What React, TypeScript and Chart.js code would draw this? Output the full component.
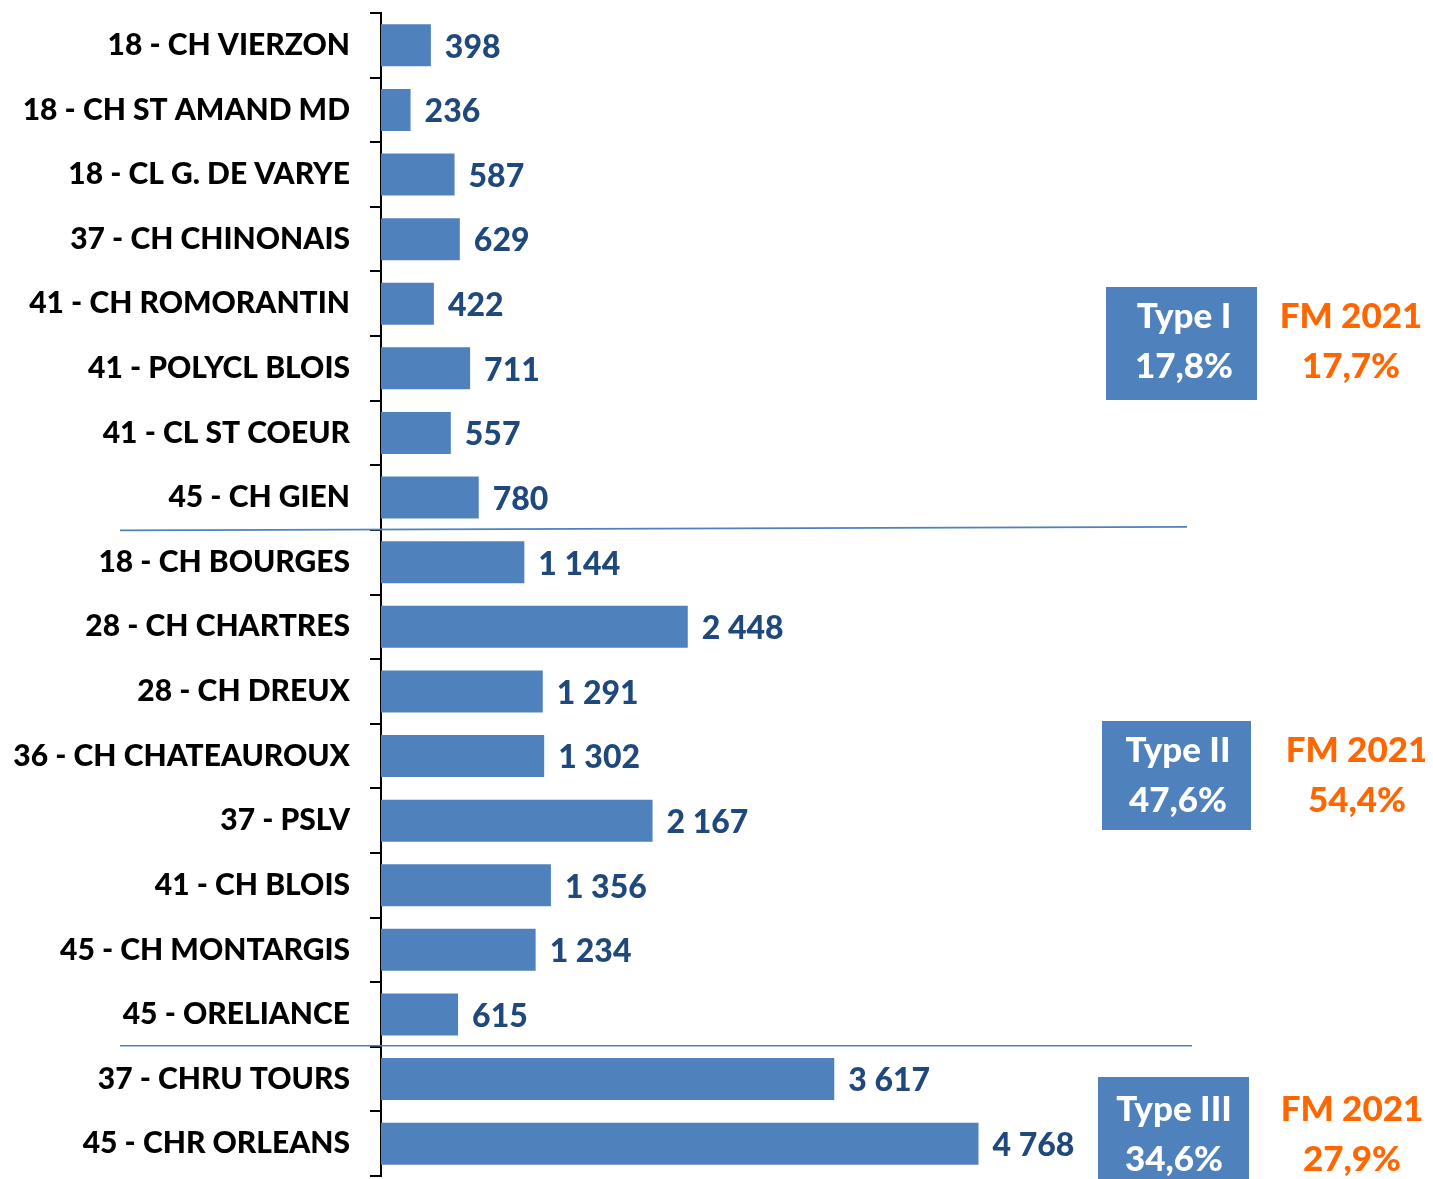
import React, { useEffect, useRef } from "react";
import { Chart, registerables } from "chart.js";

Chart.register(...registerables);

const categories = [
  "18 - CH VIERZON",
  "18 - CH ST AMAND MD",
  "18 - CL G. DE VARYE",
  "37 - CH CHINONAIS",
  "41 - CH ROMORANTIN",
  "41 - POLYCL BLOIS",
  "41 - CL ST COEUR",
  "45 - CH GIEN",
  "18 - CH BOURGES",
  "28 - CH CHARTRES",
  "28 - CH DREUX",
  "36 - CH CHATEAUROUX",
  "37 - PSLV",
  "41 - CH BLOIS",
  "45 - CH MONTARGIS",
  "45 - ORELIANCE",
  "37 - CHRU TOURS",
  "45 - CHR ORLEANS",
];

const values = [398, 236, 587, 629, 422, 711, 557, 780, 1144, 2448, 1291, 1302, 2167, 1356, 1234, 615, 3617, 4768];

const groupLabels = ["Type I", "Type II", "Type III"];
const groupShares = ["17,8%", "47,6%", "34,6%"];
const fmLabel = "FM 2021";
const fmShares = ["17,7%", "54,4%", "27,9%"];
// group boundaries (after these category indices)
const separators = [7.5, 15.5];

const FONT = "Lato, 'Open Sans', sans-serif";
const WEIGHT = "900";
const BAR = "#4f81bd";
const VALUE_COLOR = "#1f497d";
const ORANGE = "#ff6600";

const fmt = (v: number) => String(v).replace(/\B(?=(\d{3})+(?!\d))/g, " ");

const overlayPlugin = {
  id: "overlay",
  afterDatasetsDraw(chart: any) {
    const ctx = chart.ctx;
    const meta = chart.getDatasetMeta(0);
    ctx.save();
    ctx.font = `${WEIGHT} 32px ${FONT}`;
    ctx.fillStyle = VALUE_COLOR;
    ctx.textAlign = "left";
    ctx.textBaseline = "middle";
    meta.data.forEach((bar: any, i: number) => {
      ctx.fillText(fmt(values[i]), bar.x + 14, bar.y + 2);
    });

    // separators
    const ys = chart.scales.y;
    ctx.strokeStyle = BAR;
    ctx.lineWidth = 1.6;
    const left = chart.chartArea.left;
    separators.forEach((s, k) => {
      const y = ys.getPixelForValue(s) - 1;
      ctx.beginPath();
      ctx.moveTo(left - 261, y + (k === 0 ? 1.5 : 0));
      ctx.lineTo(left + (k === 0 ? 806 : 811), y - (k === 0 ? 2 : 0));
      ctx.stroke();
    });

    // boxes
    const boxes = [
      { x: 1098, y: 279, w: 151, h: 113, cx: 1176, fx: 1343, y1: 309, y2: 359 },
      { x: 1094, y: 713, w: 149, h: 109, cx: 1170, fx: 1349, y1: 743, y2: 793 },
      { x: 1090, y: 1069, w: 151, h: 110, cx: 1166, fx: 1344, y1: 1102, y2: 1152 },
    ];
    boxes.forEach((b, i) => {
      ctx.fillStyle = BAR;
      ctx.fillRect(b.x, b.y, b.w, b.h);
      ctx.fillStyle = "#ffffff";
      ctx.textAlign = "center";
      ctx.font = `${WEIGHT} 35px ${FONT}`;
      ctx.fillText(groupLabels[i], b.cx, b.y1);
      ctx.fillText(groupShares[i], b.cx, b.y2);
      ctx.fillStyle = ORANGE;
      ctx.fillText(fmLabel, b.fx, b.y1);
      ctx.fillText(fmShares[i], b.fx, b.y2);
    });
    ctx.restore();
  },
};

export default function App() {
  const ref = useRef<HTMLCanvasElement>(null);
  useEffect(() => {
    if (!ref.current) return;
    const chart = new Chart(ref.current, {
      type: "bar",
      data: {
        labels: categories,
        datasets: [
          {
            data: values,
            backgroundColor: BAR,
            borderWidth: 0,
            barPercentage: 0.65,
            categoryPercentage: 1,
          },
        ],
      },
      options: {
        indexAxis: "y",
        responsive: false,
        animation: false,
        layout: { padding: { top: 5, bottom: 3, left: 0, right: 44 } },
        plugins: { legend: { display: false }, tooltip: { enabled: false } },
        scales: {
          x: { display: false, min: 0, max: 7980 },
          y: {
            afterFit: (s: any) => {
              s.width = 373;
              s.paddingTop = 0;
              s.paddingBottom = 0;
            },
            border: { display: true, color: "#000", width: 2 },
            grid: {
              offset: true,
              drawOnChartArea: false,
              drawTicks: true,
              tickLength: 11,
              color: "#000",
              lineWidth: 2,
            },
            ticks: {
              padding: 20,
              color: "#000",
              font: { family: FONT, size: 30, weight: WEIGHT },
            },
          },
        },
      },
      plugins: [overlayPlugin],
    });
    return () => chart.destroy();
  }, []);
  return (
    <div style={{ width: 1417, height: 1171 }}>
      <canvas ref={ref} width={1417} height={1171} style={{ display: "block" }} />
    </div>
  );
}
